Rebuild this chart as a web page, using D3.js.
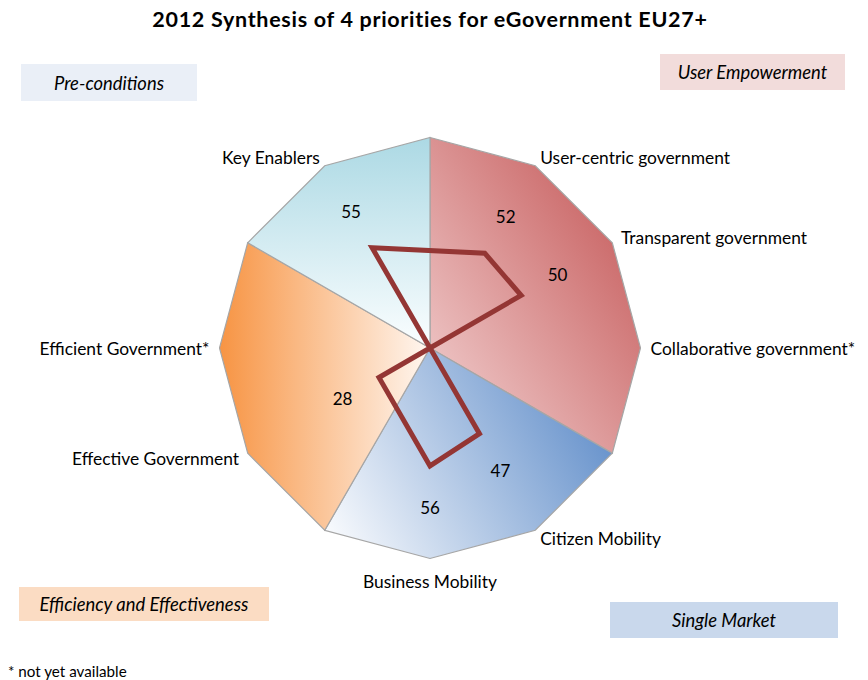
<!DOCTYPE html>
<html>
<head>
<meta charset="utf-8">
<script src="https://cdn.jsdelivr.net/npm/d3@7"></script>
<style>
  html, body { margin: 0; padding: 0; background: #ffffff; }
  svg { display: block; font-family: Lato, "Open Sans", "Noto Sans", sans-serif; }
</style>
</head>
<body>
<svg id="chart" width="868" height="680"></svg>
<script>
// ---------------- DATA ----------------
const title = "2012 Synthesis of 4 priorities for eGovernment EU27+";
// 12 radar axes, clockwise from 12 o'clock ("" = unlabelled group boundary)
const axisLabels = ["", "User-centric government", "Transparent government", "Collaborative government*",
                    "", "Citizen Mobility", "Business Mobility", "",
                    "Effective Government", "Efficient Government*", "", "Key Enablers"];
// null = no point on that axis; 0 = not yet available
const scores = [null, 52, 50, 0, null, 47, 56, null, 28, 0, null, 55];
// priority groups and the axis range (start, end) each sector covers
const groupNames = ["User Empowerment", "Single Market", "Efficiency and Effectiveness", "Pre-conditions"];
const groupStart = [0, 4, 7, 10];
const groupEnd   = [4, 7, 10, 12];
const footnote = "* not yet available";

// ---------------- LAYOUT / STYLE ----------------
const cx = 430, cy = 348, R = 210.5;
const groupGrad = [
  { id: "gUE", x1: 0, y1: 1, x2: 0.9, y2: 0.1, stops: ["#f4d6d6", "#c65c5c"] },
  { id: "gSM", x1: 0, y1: 0.85, x2: 1, y2: 0.45, stops: ["#f8fafd", "#6893cc"] },
  { id: "gEE", x1: 0, y1: 0, x2: 1, y2: 0, stops: ["#f79443", "#fff7f1"] },
  { id: "gPC", x1: 0, y1: 0, x2: 0, y2: 1, stops: ["#acd9e4", "#fbfeff"] }
];
const legendBoxes = [
  { x: 660, y: 54, w: 185, h: 36, fill: "#f2dcdb" },
  { x: 610, y: 602, w: 228, h: 36, fill: "#c9d8ec" },
  { x: 19, y: 587, w: 250, h: 34, fill: "#fbdcc3" },
  { x: 21, y: 64, w: 176, h: 37, fill: "#eaeff7" }
];

const svg = d3.select("#chart");
const r = d3.scaleLinear().domain([0, 100]).range([0, R]);
const angle = d3.scaleLinear().domain([0, axisLabels.length]).range([0, 2 * Math.PI]);
const px = (i, rad) => cx + rad * Math.sin(angle(i));
const py = (i, rad) => cy - rad * Math.cos(angle(i));

// gradients
const defs = svg.append("defs");
groupGrad.forEach(g => {
  const lg = defs.append("linearGradient").attr("id", g.id)
    .attr("x1", g.x1).attr("y1", g.y1).attr("x2", g.x2).attr("y2", g.y2);
  lg.append("stop").attr("offset", "0%").attr("stop-color", g.stops[0]);
  lg.append("stop").attr("offset", "100%").attr("stop-color", g.stops[1]);
});

// title
svg.append("text").attr("x", 430).attr("y", 27).attr("text-anchor", "middle")
  .attr("font-weight", "bold").attr("font-size", 21.5).attr("letter-spacing", 0.7)
  .attr("fill", "#000").text(title);

// sectors
const sectorData = groupNames.map((name, k) => {
  const pts = [[cx, cy]];
  for (let i = groupStart[k]; i <= groupEnd[k]; i++) pts.push([px(i, r(100)), py(i, r(100))]);
  return { name, pts, grad: groupGrad[k].id };
});
svg.append("g").selectAll("path").data(sectorData).join("path")
  .attr("d", d => d3.line()(d.pts) + "Z")
  .attr("fill", d => `url(#${d.grad})`)
  .attr("stroke", "#a6a6a6").attr("stroke-width", 1.2).attr("stroke-linejoin", "miter");

// radar line (empty axes skipped, line connects across them)
const pts = scores.map((v, i) => ({ i, v })).filter(d => d.v !== null);
const radar = d3.lineRadial()
  .angle(d => angle(d.i))
  .radius(d => r(d.v))
  .curve(d3.curveLinearClosed);
svg.append("path").attr("transform", `translate(${cx},${cy})`)
  .attr("d", radar(pts)).attr("fill", "none")
  .attr("stroke", "#943634").attr("stroke-width", 5).attr("stroke-linejoin", "miter");

// value labels
svg.append("g").selectAll("text").data(pts.filter(d => d.v > 0)).join("text")
  .attr("x", d => px(d.i, r(d.v) + 42))
  .attr("y", d => py(d.i, r(d.v) + 42))
  .attr("text-anchor", "middle").attr("dominant-baseline", "central")
  .attr("font-size", 17).attr("fill", "#000").text(d => d.v);

// axis labels
const labelData = axisLabels.map((t, i) => ({ t, i })).filter(d => d.t !== "");
svg.append("g").selectAll("text").data(labelData).join("text")
  .attr("x", d => px(d.i, R + 10))
  .attr("y", d => py(d.i, R + 10) + (Math.cos(angle(d.i)) < -0.99 ? 13 : 0))
  .attr("text-anchor", d => {
    const s = Math.sin(angle(d.i));
    return s > 0.01 ? "start" : (s < -0.01 ? "end" : "middle");
  })
  .attr("dominant-baseline", "central")
  .attr("font-size", 17.4).attr("fill", "#000").text(d => d.t);

// legend boxes
const lg = svg.append("g").selectAll("g").data(groupNames).join("g");
lg.append("rect")
  .attr("x", (d, k) => legendBoxes[k].x).attr("y", (d, k) => legendBoxes[k].y)
  .attr("width", (d, k) => legendBoxes[k].w).attr("height", (d, k) => legendBoxes[k].h)
  .attr("fill", (d, k) => legendBoxes[k].fill);
lg.append("text")
  .attr("x", (d, k) => legendBoxes[k].x + legendBoxes[k].w / 2)
  .attr("y", (d, k) => legendBoxes[k].y + legendBoxes[k].h / 2)
  .attr("text-anchor", "middle").attr("dominant-baseline", "central")
  .attr("font-style", "italic").attr("font-size", 18.4).attr("fill", "#000").text(d => d);

// footnote
svg.append("text").attr("x", 8).attr("y", 677).attr("font-size", 15.2).attr("fill", "#000").text(footnote);
</script>
</body>
</html>
